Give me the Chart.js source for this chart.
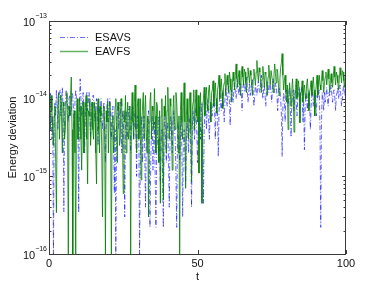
<!DOCTYPE html>
<html>
<head>
<meta charset="utf-8">
<script src="https://cdn.jsdelivr.net/npm/chart.js@4/dist/chart.umd.min.js"></script>
<style>
  html, body { margin: 0; padding: 0; background: #fff; }
  canvas { display: block; }
</style>
</head>
<body>
<canvas id="chart" width="382" height="287"></canvas>
<script>
// sample spacing in t for both series
const tStep = 0.25;

const xTicks = [0, 50, 100];
const yTicks = [1e-16, 1e-15, 1e-14, 1e-13];
const yTickExponents = ['\u221216', '\u221215', '\u221214', '\u221213'];

// ESAVS, t = 0, 0.25, ..., 100 (one row = 5 t-units)
const esavs = [
  8e-15, 5e-15, 1.2e-14, 7e-15, 3e-15, 6e-15, 1e-16, 5e-15, 9e-15, 6e-15, 1.3e-14, 8e-15, 4e-15, 9e-15, 1.1e-14, 1.3e-14, 6e-15, 1e-14, 1.4e-14, 7e-15,
  3.5e-16, 6e-15, 9e-15, 1.3e-14, 1.2e-14, 8e-15, 5e-15, 1e-14, 1.1e-14, 6e-15, 7e-15, 1.2e-14, 1.1e-14, 7e-15, 4e-15, 9e-15, 1.3e-14, 1e-14, 8e-15, 5e-15,
  3.4e-16, 9e-15, 1.8e-14, 1e-14, 6e-15, 9e-15, 1.2e-14, 6e-15, 2e-15, 7e-15, 1e-14, 1.2e-14, 7e-15, 9e-15, 1.2e-14, 6e-15, 3e-15, 8e-15, 9e-15, 1.1e-14,
  1.1e-14, 7e-15, 5e-15, 8e-15, 1e-14, 6e-15, 2.5e-15, 6e-15, 8e-15, 5e-15, 1e-14, 7e-15, 4e-15, 7e-15, 9e-15, 4e-15, 1.5e-15, 5e-15, 8e-15, 1e-14,
  5e-15, 8e-15, 1e-14, 6e-15, 3e-15, 7e-15, 8e-15, 3e-15, 6e-16, 4e-15, 1e-16, 5e-15, 7e-15, 9e-15, 4e-15, 6e-15, 9e-15, 5e-15, 2e-15, 7e-15,
  6e-15, 2e-15, 3e-16, 5e-15, 7e-15, 3e-15, 4e-15, 7e-15, 8e-15, 5e-15, 2e-15, 6e-15, 6e-15, 8e-15, 3e-15, 5e-15, 7e-15, 4e-15, 1e-15, 6e-15,
  5e-15, 3e-15, 1e-16, 2e-15, 4e-15, 6e-15, 1.5e-15, 4e-15, 6e-15, 2e-15, 4e-16, 3e-15, 3e-15, 5e-15, 7e-15, 2e-15, 2.2e-16, 1.5e-15, 4e-15, 6e-15,
  1.2e-15, 3e-15, 5e-15, 1e-15, 2.2e-16, 2e-15, 3e-15, 5e-15, 6e-15, 2e-15, 8e-16, 3e-15, 4e-15, 1e-15, 2.2e-16, 4e-15, 7e-15, 3e-15, 1.5e-15, 4e-15,
  5e-15, 1.5e-15, 4e-16, 3e-15, 6e-15, 4e-15, 2e-15, 5e-15, 7e-15, 4e-15, 3e-15, 1e-15, 2.2e-16, 3e-15, 5e-15, 2.5e-15, 1.5e-15, 4e-15, 6e-15, 2e-15,
  3e-16, 3e-15, 4e-15, 2e-15, 8e-16, 3e-15, 5e-15, 3.5e-15, 2e-15, 5e-15, 6e-15, 2e-15, 4e-16, 4e-15, 7e-15, 5e-15, 3e-15, 6e-15, 8e-15, 4e-15,
  1.5e-15, 4e-15, 6e-15, 8e-15, 3e-15, 6e-15, 9e-15, 3e-15, 4.5e-16, 4e-15, 7e-15, 9e-15, 4e-15, 7e-15, 1e-14, 5e-15, 3e-15, 7e-15, 9e-15, 6e-15,
  6e-15, 9e-15, 1.1e-14, 7e-15, 3e-15, 8e-15, 1e-14, 6e-15, 1.8e-15, 7e-15, 1.2e-14, 9e-15, 7e-15, 1.1e-14, 1.3e-14, 8e-15, 5e-15, 1e-14, 1.4e-14, 1e-14,
  8e-15, 1.2e-14, 1.5e-14, 9e-15, 4.5e-15, 1e-14, 1.3e-14, 1.1e-14, 9e-15, 1.3e-14, 1.6e-14, 1.2e-14, 1e-14, 1.4e-14, 1.8e-14, 1.3e-14, 1.1e-14, 1.5e-14, 1.6e-14, 1.2e-14,
  7e-15, 1.3e-14, 1.7e-14, 1.4e-14, 1.2e-14, 1.6e-14, 1.9e-14, 1.3e-14, 9e-15, 1.2e-14, 1.6e-14, 1.1e-14, 1.3e-14, 1.6e-14, 1.8e-14, 1.2e-14, 8e-15, 1.1e-14, 1.5e-14, 1.3e-14,
  1.1e-14, 1.4e-14, 1.7e-14, 1.3e-14, 1.2e-14, 1.5e-14, 2e-14, 1.4e-14, 1e-14, 1.3e-14, 1.5e-14, 1.1e-14, 8e-15, 1.3e-14, 1.7e-14, 1.4e-14, 1.2e-14, 1.5e-14, 1.6e-14, 1.2e-14,
  9e-15, 1.4e-14, 1.8e-14, 1.3e-14, 1.2e-14, 1.6e-14, 1.5e-14, 1.1e-14, 7e-15, 1.2e-14, 1.4e-14, 1.2e-14, 1e-14, 6e-15, 1.8e-15, 8e-15, 1.2e-14, 1e-14, 5e-15, 1.1e-14,
  1.3e-14, 1.1e-14, 8e-15, 1.2e-14, 1.4e-14, 8e-15, 3.2e-15, 9e-15, 1.1e-14, 1.3e-14, 7e-15, 1.1e-14, 1.3e-14, 9e-15, 6e-15, 1e-14, 1.2e-14, 1.4e-14, 9e-15, 1.2e-14,
  1.4e-14, 1e-14, 5e-15, 9e-15, 2.2e-15, 8e-15, 1.2e-14, 1e-14, 7e-15, 1.1e-14, 1.3e-14, 9e-15, 4e-15, 8e-15, 1.1e-14, 1.3e-14, 8e-15, 1e-14, 1.2e-14, 9e-15,
  6e-15, 1.1e-14, 1e-14, 1.2e-14, 1.3e-14, 4e-15, 2.2e-16, 5e-15, 1.2e-14, 1e-14, 7e-15, 1.2e-14, 9e-15, 1.1e-14, 1.4e-14, 1e-14, 8e-15, 1.2e-14, 1.1e-14, 1.3e-14,
  1.5e-14, 1.1e-14, 9e-15, 1.2e-14, 1.3e-14, 1e-14, 7e-15, 1.1e-14, 1.2e-14, 1.4e-14, 1e-14, 1.2e-14, 1.5e-14, 1.1e-14, 8e-15, 1e-14, 1.3e-14, 1.5e-14, 1.1e-14, 1.2e-14,
  1.4e-14
];

// EAVFS, t = 0, 0.25, ..., 100 (one row = 5 t-units)
const eavfs = [
  1e-14, 6e-15, 4e-15, 1.1e-14, 7e-15, 4e-15, 2.5e-15, 6e-15, 8e-15, 1.5e-15, 3.4e-16, 5e-15, 9e-15, 1.2e-14, 3e-15, 7e-15, 1.1e-14, 5e-15, 2e-15, 9e-15,
  8e-15, 3e-15, 4e-15, 9e-15, 1.2e-14, 5e-15, 1e-16, 8e-15, 6e-15, 1.1e-14, 1.9e-14, 4e-15, 1e-16, 5e-15, 7e-15, 2e-15, 1e-16, 6e-15, 1e-14, 3e-15,
  3e-15, 1e-14, 8e-15, 3e-15, 1.2e-15, 6e-15, 9e-15, 2e-15, 4e-15, 8e-15, 1.1e-14, 3e-15, 8e-16, 7e-15, 6e-15, 1e-14, 2.5e-15, 5e-15, 9e-15, 4e-15,
  3e-15, 9e-15, 7e-15, 2e-15, 8e-16, 6e-15, 1e-14, 4e-15, 2e-15, 8e-15, 6e-15, 2.5e-15, 3e-16, 4e-15, 8e-15, 3e-15, 1e-16, 7e-15, 5e-15, 9e-15,
  2e-15, 6e-15, 9e-15, 3e-15, 1e-16, 5e-15, 6e-15, 2e-15, 3e-15, 8e-15, 1e-14, 4e-15, 1.5e-15, 9e-15, 7e-15, 2.5e-15, 3e-15, 1e-14, 8e-15, 3e-15,
  6e-16, 7e-15, 5e-15, 1.1e-14, 2e-15, 6e-15, 9e-15, 3e-15, 4e-15, 8e-15, 1e-16, 6e-15, 1.2e-14, 5e-15, 3e-15, 9e-15, 1.5e-14, 4e-15, 2e-15, 8e-15,
  1e-14, 3e-15, 4e-15, 1e-14, 9e-16, 5e-15, 8e-15, 1.2e-14, 3e-15, 7e-15, 1.1e-14, 4e-15, 2e-15, 6e-15, 3e-16, 5e-15, 9e-15, 1.2e-14, 3e-15, 8e-15,
  7e-15, 4e-15, 1.35e-14, 6e-15, 2e-15, 9e-15, 8e-15, 3e-15, 1.5e-15, 7e-15, 4.5e-16, 6e-15, 1e-14, 3e-15, 5e-16, 8e-15, 6e-15, 1.1e-14, 2e-15, 7e-15,
  1.4e-14, 6e-15, 3e-15, 1e-14, 8e-15, 4e-15, 1.2e-15, 7e-15, 1.1e-14, 5e-15, 4e-15, 1.2e-14, 9e-15, 5e-15, 2e-15, 6e-15, 1e-16, 7e-15, 1.2e-14, 5e-15,
  3e-15, 8e-15, 1.6e-14, 5e-15, 7e-16, 6e-15, 1e-14, 5e-15, 3e-15, 9e-15, 1.2e-14, 4e-15, 8.5e-16, 7e-15, 9e-15, 1.3e-14, 4e-15, 8e-15, 1.3e-14, 6e-15,
  5e-15, 1.1e-14, 1.1e-15, 8e-15, 1.2e-14, 4e-15, 4.5e-16, 7e-15, 1e-14, 1.4e-14, 6e-15, 1.1e-14, 1.4e-14, 8e-15, 7e-15, 1.3e-14, 1.5e-14, 9e-15, 5e-15, 1.2e-14,
  1.3e-14, 1.7e-14, 8e-15, 1.2e-14, 1.6e-14, 1e-14, 6.5e-15, 1.3e-14, 1.5e-14, 2e-14, 1e-14, 1.4e-14, 1.8e-14, 1.2e-14, 7.5e-15, 1.4e-14, 1.6e-14, 2.1e-14, 1.1e-14, 1.6e-14,
  2e-14, 1.5e-14, 1.2e-14, 2.2e-14, 1.8e-14, 1.3e-14, 9e-15, 1.6e-14, 2.2e-14, 1.7e-14, 1.3e-14, 2e-14, 2.8e-14, 1.8e-14, 1.4e-14, 1.9e-14, 2.3e-14, 1.5e-14, 1.1e-14, 2e-14,
  2.6e-14, 1.9e-14, 1.5e-14, 2.4e-14, 2.2e-14, 1.6e-14, 1.2e-14, 1.9e-14, 2.5e-14, 2e-14, 1.6e-14, 2.3e-14, 2e-14, 1.5e-14, 1.1e-14, 1.8e-14, 2.4e-14, 1.9e-14, 1.5e-14, 2.2e-14,
  3.1e-14, 2.1e-14, 1.7e-14, 2.5e-14, 2.2e-14, 1.6e-14, 1.2e-14, 1.8e-14, 2.6e-14, 2e-14, 1.4e-14, 2.2e-14, 2.1e-14, 1.6e-14, 1.1e-14, 1.9e-14, 2.7e-14, 2e-14, 1.5e-14, 2.3e-14,
  2.3e-14, 1.7e-14, 1.2e-14, 2e-14, 2.8e-14, 2.1e-14, 1.6e-14, 2.4e-14, 2.2e-14, 1.5e-14, 1.1e-14, 1.8e-14, 2.5e-14, 2.9e-14, 3.8e-14, 2e-14, 1.3e-14, 1.7e-14, 2e-14, 1.2e-14,
  9e-15, 1.5e-14, 4e-15, 1.1e-14, 1.6e-14, 1.2e-14, 8e-15, 1.3e-14, 1.8e-14, 1.1e-14, 3.7e-15, 1e-14, 1.4e-14, 1.8e-14, 1e-14, 1.3e-14, 1.7e-14, 1.2e-14, 4.9e-15, 1.1e-14,
  1.3e-14, 1.7e-14, 9e-15, 1.3e-14, 1.5e-14, 1.1e-14, 1e-14, 1.5e-14, 1.8e-14, 1.2e-14, 7e-15, 1.2e-14, 1.4e-14, 1.7e-14, 1.1e-14, 1.5e-14, 1.9e-14, 1.3e-14, 6e-15, 1.2e-14,
  1.5e-14, 2e-14, 1.1e-14, 1.6e-14, 2e-14, 1.5e-14, 1.3e-14, 1.8e-14, 2.3e-14, 1.7e-14, 1.2e-14, 1.6e-14, 1.9e-14, 2.2e-14, 1.5e-14, 1.9e-14, 2.4e-14, 1.8e-14, 1.2e-14, 1.7e-14,
  2.1e-14, 1.6e-14, 1.4e-14, 2e-14, 2.6e-14, 1.9e-14, 1.5e-14, 2.2e-14, 2e-14, 1.6e-14, 1.3e-14, 1.8e-14, 2.5e-14, 2e-14, 1.6e-14, 2.3e-14, 2.2e-14, 1.7e-14, 1.4e-14, 2e-14,
  1.9e-14
];

const toPoints = (vals) => vals.map((v, i) => ({ x: i * tStep, y: v }));

const FONT = '"Liberation Sans", Arial, sans-serif';

const frame = {
  id: 'frame',
  afterDraw(chart) {
    const { ctx, chartArea: a, scales: { x, y } } = chart;
    const line = (x1, y1, x2, y2) => {
      ctx.beginPath();
      ctx.moveTo(x1, y1);
      ctx.lineTo(x2, y2);
      ctx.stroke();
    };
    ctx.save();
    ctx.strokeStyle = '#3a3a3a';
    ctx.lineWidth = 1;
    ctx.strokeRect(a.left + 0.5, a.top + 0.5, a.right - a.left - 1, a.bottom - a.top);

    // x ticks, inward, top and bottom
    xTicks.forEach(v => {
      const px = Math.round(x.getPixelForValue(v)) + 0.5;
      line(px, a.bottom, px, a.bottom - 4);
      line(px, a.top, px, a.top + 4);
    });

    // y ticks, major + minor, inward, left and right
    yTicks.forEach((v, i) => {
      const py = Math.round(y.getPixelForValue(v)) + 0.5;
      line(a.left, py, a.left + 4, py);
      line(a.right, py, a.right - 4, py);
      if (i < yTicks.length - 1) {
        for (let m = 2; m <= 9; m++) {
          const pm = Math.round(y.getPixelForValue(v * m)) + 0.5;
          line(a.left, pm, a.left + 2.5, pm);
          line(a.right, pm, a.right - 2.5, pm);
        }
      }
    });

    ctx.fillStyle = '#111';
    // y tick labels 10^n
    yTicks.forEach((v, i) => {
      const py = y.getPixelForValue(v);
      ctx.font = '7px ' + FONT;
      const ew = ctx.measureText(yTickExponents[i]).width;
      const right = a.left - 2;
      ctx.textAlign = 'left';
      ctx.textBaseline = 'alphabetic';
      ctx.fillText(yTickExponents[i], right - ew, py - 3);
      ctx.font = '11px ' + FONT;
      ctx.textAlign = 'right';
      ctx.fillText('10', right - ew, py + 4.5);
    });

    // x tick labels
    ctx.font = '11px ' + FONT;
    ctx.textAlign = 'center';
    ctx.textBaseline = 'alphabetic';
    xTicks.forEach(v => {
      ctx.fillText(String(v), x.getPixelForValue(v), a.bottom + 13);
    });

    // axis titles
    ctx.fillText('t', (a.left + a.right) / 2, 280);
    ctx.save();
    ctx.translate(16, (a.top + a.bottom) / 2);
    ctx.rotate(-Math.PI / 2);
    ctx.fillText('Energy deviation', 0, 0);
    ctx.restore();

    // legend
    ctx.textAlign = 'left';
    ctx.textBaseline = 'middle';
    ctx.lineWidth = 1.2;
    ctx.strokeStyle = 'rgba(60,60,255,0.75)';
    ctx.setLineDash([5, 2, 1, 2]);
    line(60, 37.5, 88, 37.5);
    ctx.setLineDash([]);
    ctx.lineWidth = 1.5;
    ctx.strokeStyle = 'rgba(0,128,0,0.6)';
    line(60, 51.5, 88, 51.5);
    ctx.fillText('ESAVS', 95, 37.5);
    ctx.fillText('EAVFS', 95, 51.5);
    ctx.restore();
  }
};

new Chart(document.getElementById('chart'), {
  type: 'line',
  data: {
    datasets: [
      {
        label: 'EAVFS',
        data: toPoints(eavfs),
        borderColor: 'rgba(0,128,0,0.8)',
        borderWidth: 1,
        pointRadius: 0,
        tension: 0
      },
      {
        label: 'ESAVS',
        data: toPoints(esavs),
        borderColor: 'rgba(0,0,255,0.6)',
        borderWidth: 1,
        borderDash: [5, 2, 1, 2],
        pointRadius: 0,
        tension: 0
      }
    ]
  },
  options: {
    responsive: false,
    animation: false,
    devicePixelRatio: 1,
    layout: { padding: { left: 49, right: 36, top: 21, bottom: 33 } },
    plugins: { legend: { display: false }, tooltip: { enabled: false } },
    scales: {
      x: { type: 'linear', min: 0, max: 100, display: false },
      y: { type: 'logarithmic', min: 1e-16, max: 1e-13, display: false }
    }
  },
  plugins: [frame]
});
</script>
</body>
</html>
